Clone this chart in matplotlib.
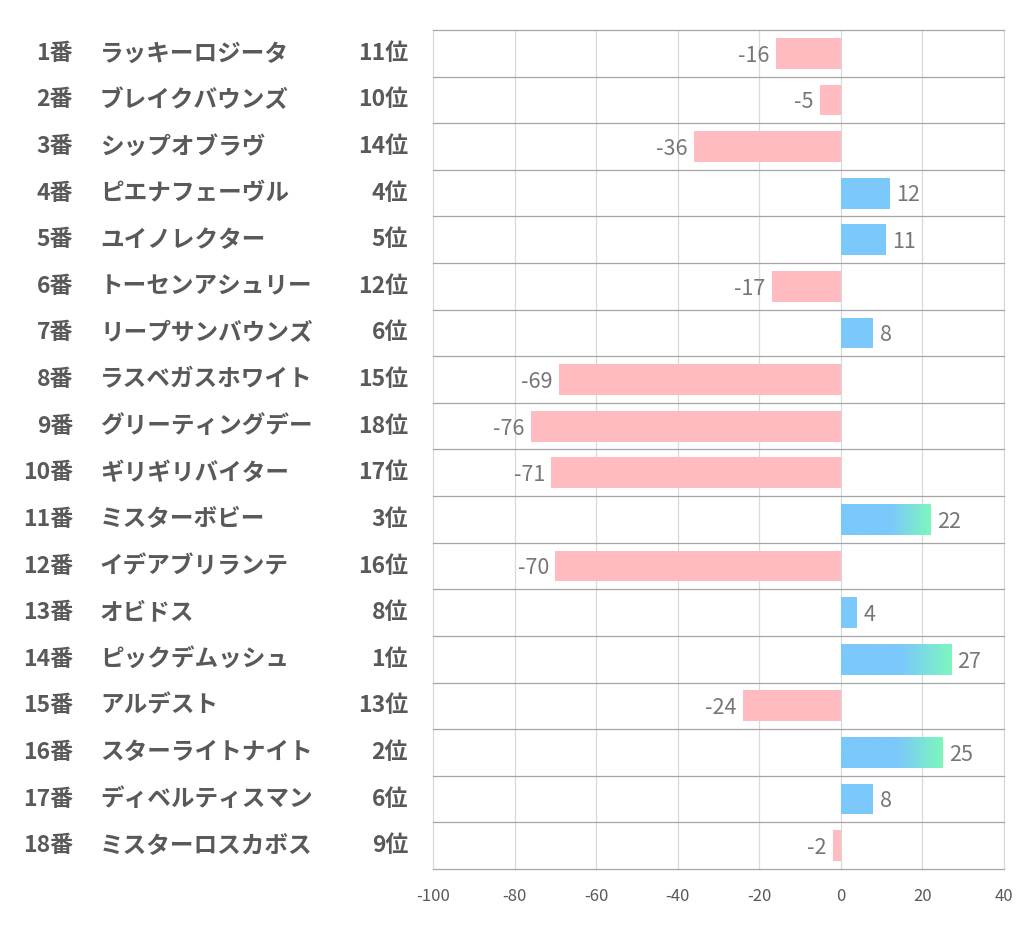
import numpy as np
import matplotlib
matplotlib.use('Agg')
import matplotlib.pyplot as plt
from matplotlib.patches import Rectangle
from matplotlib.colors import LinearSegmentedColormap
from matplotlib.transforms import blended_transform_factory

plt.rcParams['font.family'] = ['Noto Sans CJK JP', 'DejaVu Sans']
plt.rcParams['axes.unicode_minus'] = False

numbers = ['1番', '2番', '3番', '4番', '5番', '6番', '7番', '8番', '9番',
           '10番', '11番', '12番', '13番', '14番', '15番', '16番', '17番', '18番']
horses = ['ラッキーロジータ', 'ブレイクバウンズ', 'シップオブラヴ', 'ピエナフェーヴル',
          'ユイノレクター', 'トーセンアシュリー', 'リープサンバウンズ', 'ラスベガスホワイト',
          'グリーティングデー', 'ギリギリバイター', 'ミスターボビー', 'イデアブリランテ',
          'オビドス', 'ピックデムッシュ', 'アルデスト', 'スターライトナイト',
          'ディベルティスマン', 'ミスターロスカボス']
ranks = ['11位', '10位', '14位', '4位', '5位', '12位', '6位', '15位', '18位',
         '17位', '3位', '16位', '8位', '1位', '13位', '2位', '6位', '9位']
values = [-16, -5, -36, 12, 11, -17, 8, -69, -76, -71, 22, -70, 4, 27, -24, 25, 8, -2]

pink = '#FFBBBF'
blue = '#7BC8FB'
green = '#7DF7BD'
grad = LinearSegmentedColormap.from_list('g', [(0, blue), (0.55, blue), (1, green)])

fig = plt.figure(figsize=(10.22, 9.39), dpi=100)
ax = fig.add_axes([433 / 1022, 1 - 869 / 939, (1004 - 433) / 1022, (869 - 30) / 939])

n = len(values)
ax.set_xlim(-100, 40)
ax.set_ylim(n - 0.5, -0.5)
bh = 0.66

for i, v in enumerate(values):
    if v < 0:
        ax.barh(i, v, height=bh, color=pink, zorder=2)
        ax.text(v - 1.6, i + 0.05, str(v), ha='right', va='center', fontsize=15.5, color='#767676')
    else:
        if v >= 20:
            rect = Rectangle((0, i - bh / 2), v, bh, facecolor='none', edgecolor='none')
            ax.add_patch(rect)
            g = np.linspace(0, 1, 256).reshape(1, -1)
            im = ax.imshow(g, cmap=grad, aspect='auto', extent=(0, v, i + bh / 2, i - bh / 2), zorder=2)
            im.set_clip_path(rect)
        else:
            ax.barh(i, v, height=bh, color=blue, zorder=2)
        ax.text(v + 1.6, i + 0.05, str(v), ha='left', va='center', fontsize=15.5, color='#767676')

ax.set_xlim(-100, 40)
ax.set_ylim(n - 0.5, -0.5)

# grid
for x in range(-100, 41, 20):
    ax.axvline(x, color='#D9D9D9', lw=0.9, zorder=1, clip_on=False)
for y in np.arange(-0.5, n, 1):
    ax.axhline(y, color='#A6A6A6', lw=0.9, zorder=1, clip_on=False)

for s in ax.spines.values():
    s.set_visible(False)
ax.set_yticks([])
ax.set_xticks(range(-100, 41, 20))
ax.tick_params(axis='x', length=0, labelsize=12, labelcolor='#595959', pad=14)

tr = blended_transform_factory(fig.transFigure, ax.transData)
for i in range(n):
    ax.text(73 / 1022, i, numbers[i], transform=tr, ha='right', va='center',
            fontsize=16.5, fontweight='bold', color='#595959')
    ax.text(100 / 1022, i, horses[i], transform=tr, ha='left', va='center',
            fontsize=17, fontweight='bold', color='#595959')
    ax.text(408 / 1022, i, ranks[i], transform=tr, ha='right', va='center',
            fontsize=16.5, fontweight='bold', color='#595959')

fig.savefig('out.png', dpi=100, facecolor='white')
